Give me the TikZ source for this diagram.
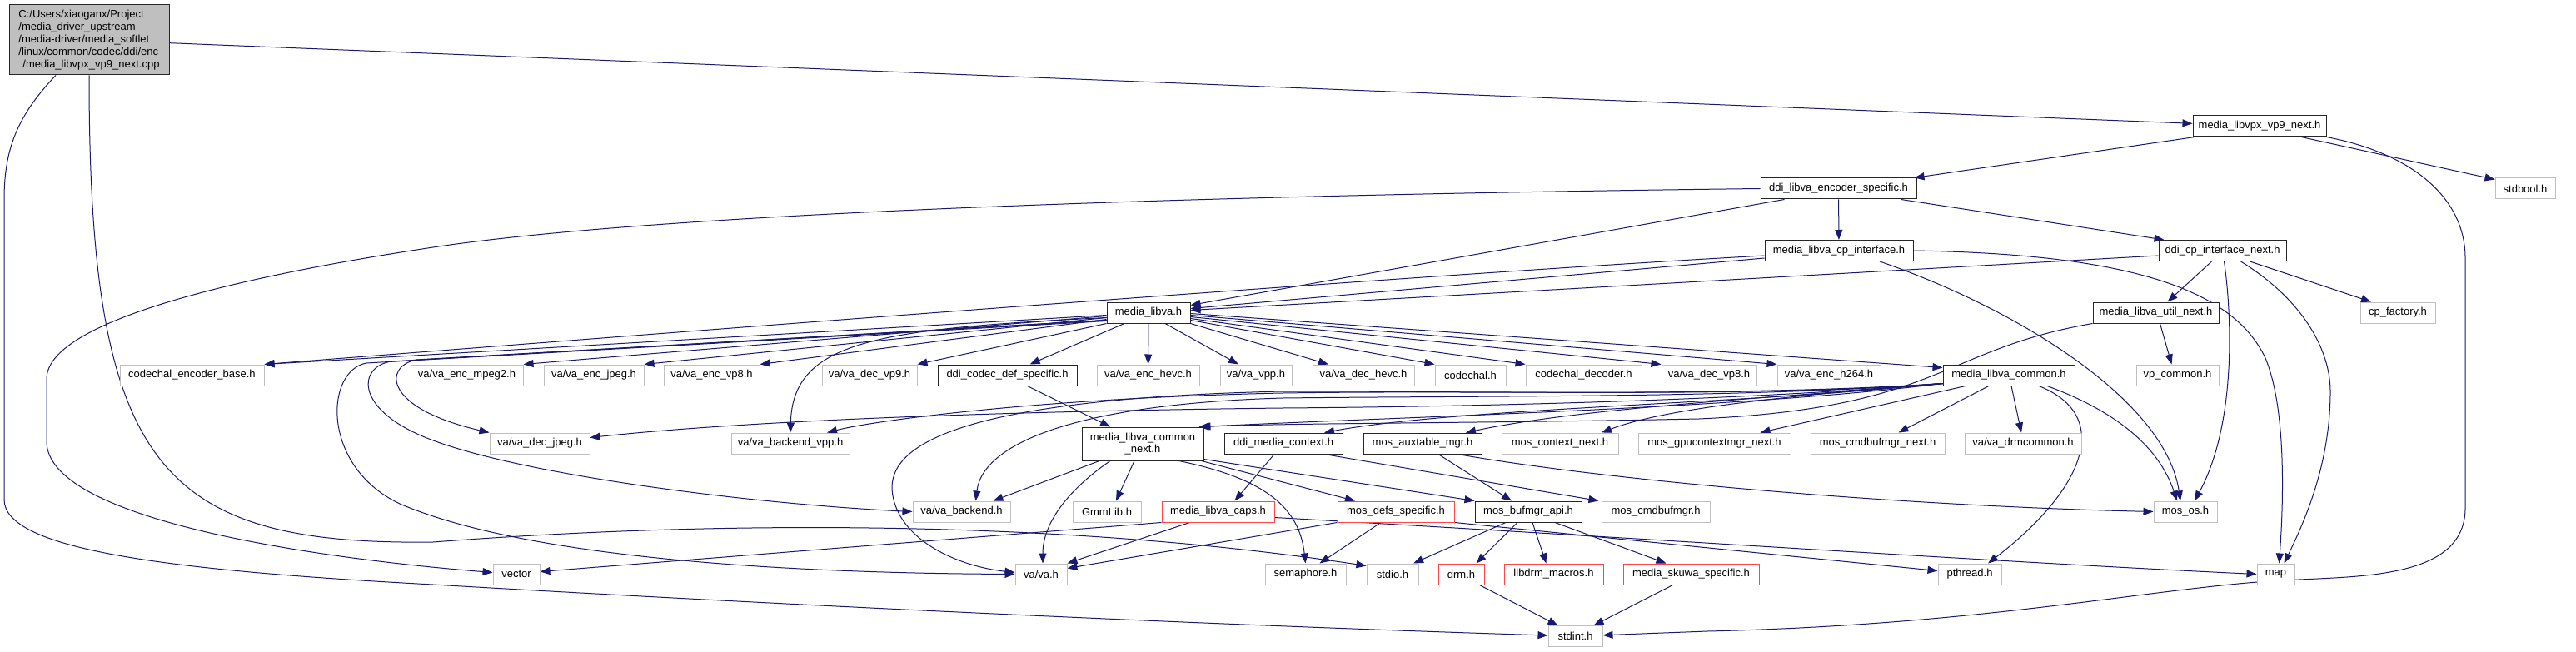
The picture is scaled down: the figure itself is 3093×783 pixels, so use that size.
\documentclass[tikz,border=0pt]{standalone}
\usepackage{fontspec}
\usetikzlibrary{arrows.meta,backgrounds}
\newfontfamily\nodefont{Liberation Sans}
\definecolor{edgec}{HTML}{191970}
\definecolor{gborder}{HTML}{BFBFBF}
\definecolor{rborder}{HTML}{FF4545}
\definecolor{rootfill}{HTML}{BFBFBF}
\tikzset{
  basenode/.style={line width=1pt, minimum height=25pt, inner sep=0pt, fill=white,
     font={\nodefont\fontsize{13}{14}\selectfont}, align=center},
  gnode/.style={basenode, draw=gborder},
  bnode/.style={basenode, draw=black!85},
  rnode/.style={basenode, draw=rborder},
  edg/.style={draw=edgec, line width=1pt, -{Triangle[length=12pt,width=9pt]}},
}
\begin{document}
\begin{tikzpicture}[x=1pt,y=-1pt]
\useasboundingbox (0,0) rectangle (3093,783);
% ---------- nodes ----------
\node[basenode, draw=black!85, fill=rootfill, minimum width=192pt, minimum height=84pt, align=left,
      font={\nodefont\fontsize{13}{15}\selectfont}] (root) at (107,48)
  {C:/Users/xiaoganx/Project\\/media\_driver\_upstream\\/media-driver/media\_softlet\\/linux/common/codec/ddi/enc\\\hspace*{5pt}/media\_libvpx\_vp9\_next.cpp};
\node[bnode, minimum width=160pt] (vpxh) at (2713,151.5) {media\_libvpx\_vp9\_next.h};
\node[gnode, minimum width=72pt] (stdbool) at (3032,226.5) {stdbool.h};
\node[bnode, minimum width=187pt] (encspec) at (2207.5,226.5) {ddi\_libva\_encoder\_specific.h};
\node[bnode, minimum width=178pt] (cpif) at (2208,301) {media\_libva\_cp\_interface.h};
\node[bnode, minimum width=153pt] (ddicp) at (2668.5,301) {ddi\_cp\_interface\_next.h};
\node[bnode, minimum width=100pt] (libva) at (1379,375.5) {media\_libva.h};
\node[bnode, minimum width=151pt] (utilnext) at (2588.5,375.5) {media\_libva\_util\_next.h};
\node[gnode, minimum width=90pt] (cpfactory) at (2879,375.5) {cp\_factory.h};
% row y=450.5
\node[gnode, minimum width=173pt] (ceb) at (230.5,450.5) {codechal\_encoder\_base.h};
\node[gnode, minimum width=135pt] (mpeg2) at (560.5,450.5) {va/va\_enc\_mpeg2.h};
\node[gnode, minimum width=120pt] (encjpeg) at (713,450.5) {va/va\_enc\_jpeg.h};
\node[gnode, minimum width=115pt] (encvp8) at (854.5,450.5) {va/va\_enc\_vp8.h};
\node[gnode, minimum width=114pt] (decvp9) at (1044,450.5) {va/va\_dec\_vp9.h};
\node[bnode, minimum width=167pt] (codecdef) at (1209.5,450.5) {ddi\_codec\_def\_specific.h};
\node[gnode, minimum width=123pt] (enchevc) at (1378.5,450.5) {va/va\_enc\_hevc.h};
\node[gnode, minimum width=86pt] (vpp) at (1508,450.5) {va/va\_vpp.h};
\node[gnode, minimum width=122pt] (dechevc) at (1637,450.5) {va/va\_dec\_hevc.h};
\node[gnode, minimum width=85pt] (codechal) at (1765.5,450.5) {codechal.h};
\node[gnode, minimum width=139pt] (codecdec) at (1901.5,450.5) {codechal\_decoder.h};
\node[gnode, minimum width=114pt] (decvp8) at (2052,450.5) {va/va\_dec\_vp8.h};
\node[gnode, minimum width=124pt] (ench264) at (2196,450.5) {va/va\_enc\_h264.h};
\node[bnode, minimum width=158pt] (common) at (2412,450.5) {media\_libva\_common.h};
\node[gnode, minimum width=99pt] (vpcommon) at (2614.5,450.5) {vp\_common.h};
% row y=532.5
\node[gnode, minimum width=120pt] (decjpeg) at (648,532.5) {va/va\_dec\_jpeg.h};
\node[gnode, minimum width=142pt] (backendvpp) at (949,532.5) {va/va\_backend\_vpp.h};
\node[bnode, minimum width=146pt, minimum height=40pt] (commonnext) at (1372,533) {media\_libva\_common\\\_next.h};
\node[bnode, minimum width=142pt] (mediactx) at (1541,532.5) {ddi\_media\_context.h};
\node[bnode, minimum width=142pt] (auxtable) at (1708,532.5) {mos\_auxtable\_mgr.h};
\node[gnode, minimum width=140pt] (ctxnext) at (1873,532.5) {mos\_context\_next.h};
\node[gnode, minimum width=183pt] (gpuctx) at (2058.5,532.5) {mos\_gpucontextmgr\_next.h};
\node[gnode, minimum width=161pt] (cmdbufnext) at (2254.5,532.5) {mos\_cmdbufmgr\_next.h};
\node[gnode, minimum width=140pt] (drmcommon) at (2429,532.5) {va/va\_drmcommon.h};
% row y=614.5
\node[gnode, minimum width=117pt] (backend) at (1154.5,614.5) {va/va\_backend.h};
\node[gnode, minimum width=82pt] (gmmlib) at (1329,614.5) {GmmLib.h};
\node[rnode, minimum width=135pt] (caps) at (1462.5,614.5) {media\_libva\_caps.h};
\node[rnode, minimum width=140pt] (defsspec) at (1676,614.5) {mos\_defs\_specific.h};
\node[bnode, minimum width=128pt] (bufmgr) at (1835,614.5) {mos\_bufmgr\_api.h};
\node[gnode, minimum width=130pt] (cmdbufmgr) at (1988,614.5) {mos\_cmdbufmgr.h};
\node[gnode, minimum width=76pt] (mosos) at (2624,614.5) {mos\_os.h};
% row y=689.5
\node[gnode, minimum width=56pt] (vector) at (620,689.5) {vector};
\node[gnode, minimum width=62pt] (vah) at (1250,689.5) {va/va.h};
\node[gnode, minimum width=97pt] (semaphore) at (1567.5,689.5) {semaphore.h};
\node[gnode, minimum width=62pt] (stdio) at (1672,689.5) {stdio.h};
\node[rnode, minimum width=55pt] (drm) at (1754.5,689.5) {drm.h};
\node[rnode, minimum width=119pt] (libdrm) at (1865.5,689.5) {libdrm\_macros.h};
\node[rnode, minimum width=163pt] (skuwa) at (2030.5,689.5) {media\_skuwa\_specific.h};
\node[gnode, minimum width=76pt] (pthread) at (2365,689.5) {pthread.h};
\node[gnode, minimum width=45pt] (map) at (2732.5,689.5) {map};
\node[gnode, minimum width=65pt] (stdint) at (1891.5,764) {stdint.h};
% ---------- edges ----------
\begin{scope}[on background layer]
\fill[white] (0,0) rectangle (3093,783);
% root
\draw[edg] (root) -- (vpxh);
\draw[edg] (root.south) .. controls (107,560) and (190,655) .. (520,651) .. controls (900,622) and (1300,628) .. ([yshift=-3pt]stdio.north west);
\draw[edg] ([xshift=-40pt]root.south) .. controls (20,140) and (5,180) .. (5,240) -- (5,600) .. controls (5,660) and (200,685) .. (520,702) .. controls (1000,730) and (1500,752) .. (stdint);
% media_libvpx_vp9_next.h
\draw[edg] ([xshift=3pt]vpxh.south west) -- ([xshift=-3pt]encspec.north east);
\draw[edg] ([xshift=50pt]vpxh.south) -- ([yshift=-2pt]stdbool.north west);
\draw[edg] (vpxh.south east) .. controls (2900,185) and (2960,240) .. (2960,310) -- (2960,610) .. controls (2960,690) and (2850,692) .. (2760,696) .. controls (2600,702) and (2400,750) .. (2050,758) -- (stdint);
% ddi_libva_encoder_specific.h
\draw[edg] (encspec) -- (cpif);
\draw[edg] ([xshift=75pt]encspec.south) -- ([xshift=-70pt]ddicp.north);
\draw[edg] ([xshift=-65pt]encspec.south) -- ([yshift=9pt]libva.east);
\draw[edg] (encspec.west) .. controls (1300,236) and (750,262) .. (520,297) .. controls (260,336) and (56,390) .. (56,455) -- (56,530) .. controls (56,620) and (350,668) .. ([yshift=2pt]vector.west);
% media_libva_cp_interface.h
\draw[edg] ([yshift=-9pt]cpif.west) -- ([yshift=5pt]libva.east);
\draw[edg] ([yshift=-6pt]cpif.west) .. controls (1700,330) and (900,392) .. (ceb.north east);
\draw[edg] ([xshift=49pt]cpif.south) .. controls (2420,370) and (2600,480) .. ([xshift=-6pt]mosos.north);
\draw[edg] (cpif.east) .. controls (2550,305) and (2680,345) .. (2720,430) .. controls (2745,490) and (2742,600) .. ([xshift=4pt]map.north);
% ddi_cp_interface_next.h
\draw[edg] ([yshift=-6pt]ddicp.west) -- ([yshift=3pt]libva.east);
\draw[edg] ([xshift=-13pt]ddicp.south) -- ([xshift=14pt]utilnext.north);
\draw[edg] ([xshift=33pt]ddicp.south) -- ([xshift=-32pt]cpfactory.north);
\draw[edg] ([xshift=2pt]ddicp.south) .. controls (2680,380) and (2685,510) .. ([xshift=11pt]mosos.north);
\draw[edg] ([xshift=22pt]ddicp.south) .. controls (2765,360) and (2798,420) .. (2798,470) .. controls (2798,560) and (2765,630) .. ([xshift=10pt]map.north);
% media_libva_util_next.h
\draw[edg] ([xshift=5pt]utilnext.south) -- ([xshift=-7pt]vpcommon.north);
\draw[edg] (utilnext.south west) .. controls (2330,420) and (2330,490) .. (2040,503) .. controls (1800,508) and (1550,508) .. ([xshift=-6pt]commonnext.north east);
% media_libva.h
\draw[edg] ([yshift=-3pt]libva.west) -- (ceb.north east);
\draw[edg] ([yshift=-4pt]libva.west) -- (mpeg2.north east);
\draw[edg] ([yshift=-6pt]libva.west) -- (encjpeg.north east);
\draw[edg] ([yshift=-8pt]libva.west) -- (encvp8.north east);
\draw[edg] (libva.south west) -- (decvp9.north east);
\draw[edg] ([xshift=-29pt]libva.south) -- ([xshift=27pt]codecdef.north);
\draw[edg] (libva) -- (enchevc);
\draw[edg] ([xshift=20pt]libva.south) -- ([xshift=-21pt]vpp.north);
\draw[edg] (libva.south east) -- ([xshift=-42pt]dechevc.north);
\draw[edg] ([yshift=-9pt]libva.east) -- (codechal.north west);
\draw[edg] ([yshift=-7pt]libva.east) -- (codecdec.north west);
\draw[edg] ([yshift=-5pt]libva.east) -- (decvp8.north west);
\draw[edg] ([yshift=-3pt]libva.east) -- (ench264.north west);
\draw[edg] ([yshift=-1pt]libva.east) -- ([yshift=-4pt]common.north west);
\draw[edg] ([yshift=-9pt]libva.west) -- (500,432) .. controls (460,440) and (460,490) .. (decjpeg.north west);
\draw[edg] ([yshift=-9pt]libva.west) -- (470,434) .. controls (430,440) and (425,490) .. (510,525) .. controls (620,570) and (900,605) .. (backend.west);
\draw[edg] ([yshift=-10pt]libva.west) -- (440,436) .. controls (390,445) and (385,560) .. (480,605) .. controls (620,665) and (900,688) .. (vah.west);
\draw[edg] ([yshift=-6pt]libva.west) .. controls (1050,395) and (952,410) .. (backendvpp.north);
% media_libva_common.h
\draw[edg] ([yshift=-10pt]common.west) .. controls (2100,490) and (1700,500) .. ([xshift=-4pt]commonnext.north east);
\draw[edg] ([yshift=-10pt]common.west) .. controls (2100,485) and (1750,490) .. ([xshift=49pt]mediactx.north);
\draw[edg] ([yshift=-10pt]common.west) .. controls (2100,480) and (1900,490) .. ([xshift=52pt]auxtable.north);
\draw[edg] ([yshift=-10pt]common.west) .. controls (2150,475) and (2000,490) .. ([xshift=50pt]ctxnext.north);
\draw[edg] ([xshift=-52pt]common.south) -- ([xshift=55pt]gpuctx.north);
\draw[edg] ([xshift=-24pt]common.south) -- ([xshift=25pt]cmdbufnext.north);
\draw[edg] ([xshift=3pt]common.south) -- ([xshift=-2pt]drmcommon.north);
\draw[edg] ([xshift=36pt]common.south) .. controls (2540,500) and (2500,590) .. ([xshift=22pt]pthread.north);
\draw[edg] ([xshift=46pt]common.south) .. controls (2530,490) and (2590,530) .. ([xshift=-10pt]mosos.north);
\draw[edg] ([yshift=-10pt]common.west) .. controls (2100,480) and (1800,488) .. (1540,490) .. controls (1200,494) and (900,505) .. ([yshift=7pt]decjpeg.east);
\draw[edg] ([yshift=-10pt]common.west) .. controls (2100,478) and (1800,468) .. (1540,472) .. controls (1250,478) and (1050,505) .. ([xshift=44pt]backendvpp.north);
\draw[edg] ([yshift=-10pt]common.west) .. controls (2100,478) and (1800,475) .. (1540,478) .. controls (1300,485) and (1180,530) .. ([xshift=17pt]backend.north);
\draw[edg] ([yshift=-10pt]common.west) .. controls (2100,476) and (1800,470) .. (1540,470) .. controls (1100,480) and (1060,550) .. (1073,600) .. controls (1085,650) and (1150,680) .. ([yshift=2pt]vah.west);
% ddi_codec_def_specific.h
\draw[edg] ([xshift=24pt]codecdef.south) -- ([xshift=-39pt]commonnext.north);
% media_libva_common_next.h
\draw[edg] ([xshift=-52pt]commonnext.south) -- ([xshift=38pt]backend.north);
\draw[edg] ([xshift=-39pt]commonnext.south) .. controls (1280,590) and (1252,630) .. ([xshift=2pt]vah.north);
\draw[edg] ([xshift=-10pt]commonnext.south) -- ([xshift=11pt]gmmlib.north);
\draw[edg] ([yshift=2pt]commonnext.south east) -- (bufmgr.north west);
\draw[edg] ([xshift=-3pt]commonnext.south east) -- ([xshift=-49pt]defsspec.north);
\draw[edg] ([xshift=-30pt]commonnext.south east) .. controls (1520,575) and (1560,610) .. (semaphore.north);
% ddi_media_context.h
\draw[edg] ([xshift=-11pt]mediactx.south) -- ([xshift=20pt]caps.north);
\draw[edg] ([xshift=49pt]mediactx.south) -- ([xshift=-3pt]cmdbufmgr.north west);
% mos_auxtable_mgr.h
\draw[edg] ([xshift=19pt]auxtable.south) -- ([xshift=-20pt]bufmgr.north);
\draw[edg] ([xshift=42pt]auxtable.south) .. controls (1950,580) and (2300,608) .. (mosos.west);
% media_libva_caps.h
\draw[edg] (caps.south west) -- ([yshift=3pt]vector.east);
\draw[edg] ([xshift=-34pt]caps.south) -- (vah.north east);
\draw[edg] ([yshift=-7pt]caps.east) .. controls (2000,648) and (2400,675) .. (map.west);
% mos_defs_specific.h
\draw[edg] ([xshift=-18pt]defsspec.south) -- ([xshift=17pt]semaphore.north);
\draw[edg] (defsspec.south west) -- ([yshift=7pt]vah.east);
\draw[edg] (defsspec.south east) -- ([yshift=4pt]pthread.west);
% mos_bufmgr_api.h
\draw[edg] ([xshift=-27pt]bufmgr.south) -- ([xshift=25pt]stdio.north);
\draw[edg] ([xshift=-13pt]bufmgr.south) -- ([xshift=18pt]drm.north);
\draw[edg] ([xshift=5pt]bufmgr.south) -- ([xshift=-9pt]libdrm.north);
\draw[edg] ([xshift=32pt]bufmgr.south) -- ([xshift=-30pt]skuwa.north);
% drm.h, media_skuwa_specific.h
\draw[edg] ([xshift=22pt]drm.south) -- ([xshift=-21pt]stdint.north);
\draw[edg] ([xshift=-22pt]skuwa.south) -- ([xshift=22pt]stdint.north);
\end{scope}
\end{tikzpicture}
\end{document}
